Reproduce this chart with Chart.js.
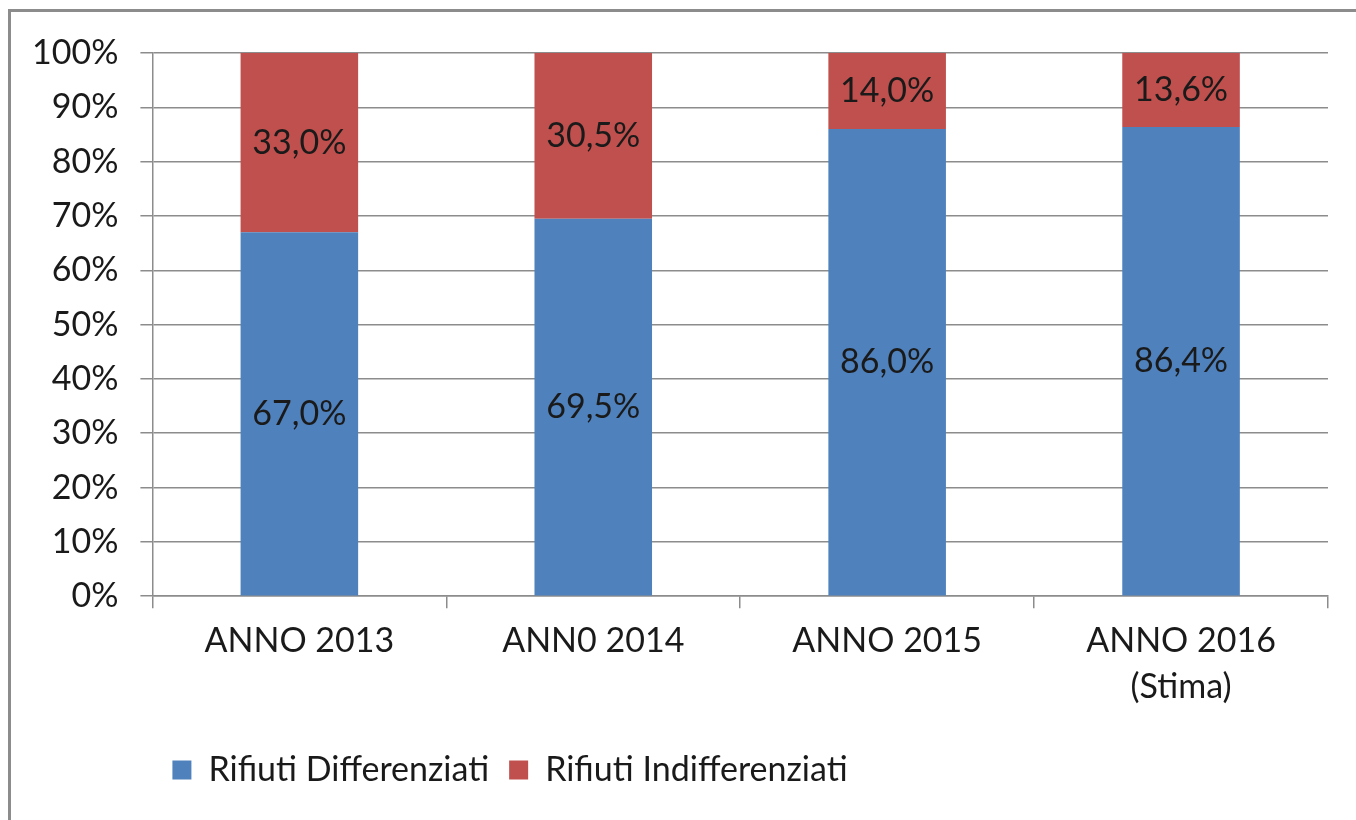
<!DOCTYPE html>
<html>
<head>
<meta charset="utf-8">
<script src="https://cdn.jsdelivr.net/npm/chart.js@4.4.1/dist/chart.umd.min.js"></script>
<style>
  body { margin: 0; background: #fff; overflow: hidden; }
  .frame { position: absolute; left: 8px; top: 9px; width: 1500px; height: 1000px; border: 3px solid #8c8c8c; }
  .wrap { position: absolute; left: 0; top: 0; width: 1356px; height: 820px; }
</style>
</head>
<body>
<div class="frame"></div>
<div class="wrap"><canvas id="rifiutiChart"></canvas></div>
<script>
const categories = ["ANNO 2013", "ANN0 2014", "ANNO 2015", ["ANNO 2016", "(Stima)"]];
const differenziati = [67.0, 69.5, 86.0, 86.4];
const indifferenziati = [33.0, 30.5, 14.0, 13.6];
const yTicks = [0, 10, 20, 30, 40, 50, 60, 70, 80, 90, 100];

const fontFamily = "Lato, 'Open Sans', sans-serif";
const fontSize = 34;
const textColor = "#1a1a1a";
const gridColor = "#8c8c8c";

// draws the value inside each bar segment
const barLabels = {
  id: "barLabels",
  afterDatasetsDraw(chart) {
    const ctx = chart.ctx;
    ctx.save();
    ctx.font = fontSize + "px " + fontFamily;
    ctx.fillStyle = textColor;
    ctx.textAlign = "center";
    ctx.textBaseline = "middle";
    chart.data.datasets.forEach((ds, i) => {
      chart.getDatasetMeta(i).data.forEach((bar, j) => {
        const mid = (bar.y + bar.base) / 2;
        ctx.fillText(ds.data[j].toFixed(1).replace(".", ",") + "%", bar.x, mid);
      });
    });
    ctx.restore();
  }
};

const ctx = document.getElementById("rifiutiChart").getContext("2d");
new Chart(ctx, {
  type: "bar",
  data: {
    labels: categories,
    datasets: [
      {
        label: "Rifiuti Differenziati",
        data: differenziati,
        backgroundColor: "#4f81bd",
        borderWidth: 0
      },
      {
        label: "Rifiuti Indifferenziati",
        data: indifferenziati,
        backgroundColor: "#c0504d",
        borderWidth: 0
      }
    ]
  },
  options: {
    responsive: true,
    maintainAspectRatio: false,
    animation: false,
    layout: { padding: { left: 10, right: 28, top: 53, bottom: 23 } },
    datasets: { bar: { categoryPercentage: 0.8, barPercentage: 0.5 } },
    plugins: {
      tooltip: { enabled: false },
      legend: {
        position: "bottom",
        align: "start",
        fullSize: false,
        labels: {
          boxWidth: 19,
          boxHeight: 19,
          padding: 20,
          color: textColor,
          font: { family: fontFamily, size: fontSize }
        }
      }
    },
    scales: {
      x: {
        stacked: true,
        grid: { display: true, drawOnChartArea: false, drawTicks: true, tickLength: 12, color: gridColor, lineWidth: 1.5 },
        border: { display: true, color: gridColor, width: 1.5 },
        ticks: {
          color: textColor,
          padding: 10,
          maxRotation: 0,
          font: { family: fontFamily, size: fontSize, lineHeight: 1.35 }
        },
        afterFit(axis) {
          axis.height += 13;
        }
      },
      y: {
        stacked: true,
        min: 0,
        max: 100,
        afterBuildTicks(axis) {
          axis.ticks = yTicks.map(v => ({ value: v }));
        },
        grid: { color: gridColor, lineWidth: 1.5, tickLength: 12 },
        border: { display: true, color: gridColor, width: 1.5 },
        ticks: {
          color: textColor,
          padding: 22,
          font: { family: fontFamily, size: fontSize },
          callback: v => v + "%"
        }
      }
    }
  },
  plugins: [barLabels]
});
</script>
</body>
</html>
